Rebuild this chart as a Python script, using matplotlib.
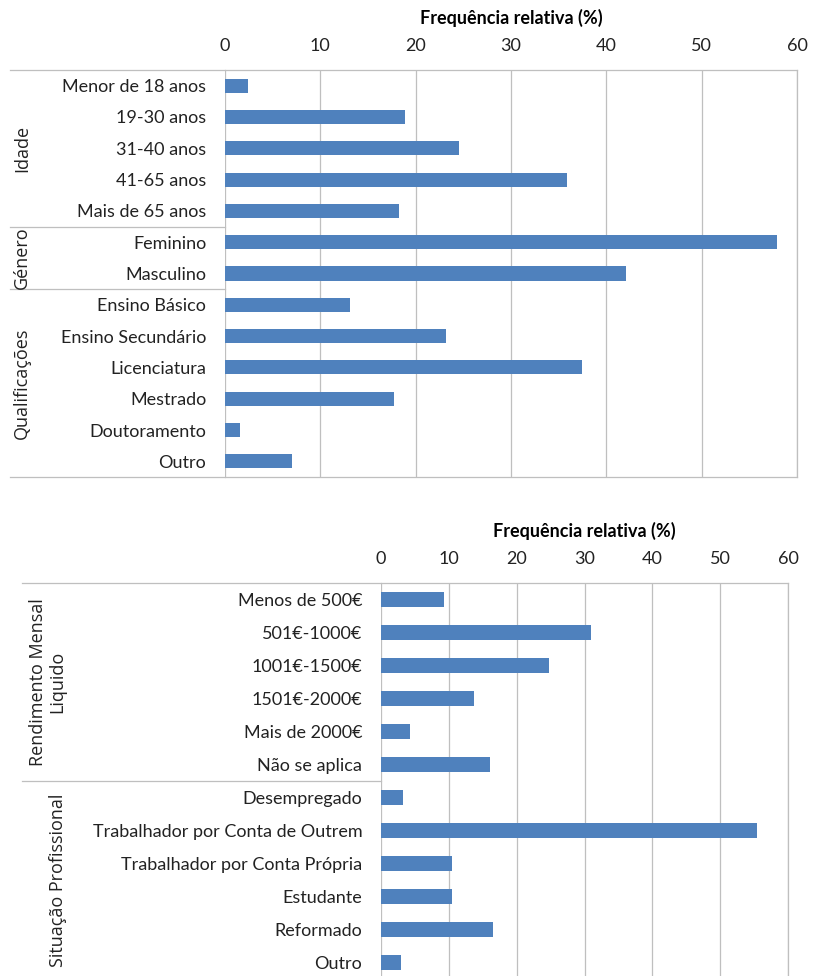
import numpy as np
import matplotlib
matplotlib.use("Agg")
import matplotlib.pyplot as plt
from matplotlib.transforms import blended_transform_factory

# top chart: profile of respondents
cats_top = ["Menor de 18 anos", "19-30 anos", "31-40 anos", "41-65 anos", "Mais de 65 anos",
            "Feminino", "Masculino",
            "Ensino Básico", "Ensino Secundário", "Licenciatura", "Mestrado", "Doutoramento", "Outro"]
vals_top = [2.4, 18.9, 24.5, 35.9, 18.2,
            57.9, 42.1,
            13.1, 23.2, 37.4, 17.7, 1.6, 7.0]
groups_top = [("Idade", 0, 4), ("Género", 5, 6), ("Qualificações", 7, 12)]

# bottom chart: income and job situation
cats_bot = ["Menos de 500€", "501€-1000€", "1001€-1500€", "1501€-2000€", "Mais de 2000€", "Não se aplica",
            "Desempregado", "Trabalhador por Conta de Outrem", "Trabalhador por Conta Própria",
            "Estudante", "Reformado", "Outro"]
vals_bot = [9.3, 31.0, 24.8, 13.7, 4.3, 16.1,
            3.3, 55.4, 10.5, 10.5, 16.5, 3.0]
groups_bot = [("Rendimento Mensal\nLiquido", 0, 5), ("Situação Profissional", 6, 11)]

xticks = [0, 10, 20, 30, 40, 50, 60]

W, H = 813, 976
BLUE = "#4F81BD"
GRID = "#BFBFBF"
LABEL_FONT = ["Lato", "DejaVu Sans"]
GROUP_FONT = ["Open Sans", "DejaVu Sans"]

fig = plt.figure(figsize=(W / 100, H / 100), dpi=100)


def px_axes(l, t, r, b):
    return fig.add_axes([l / W, 1 - b / H, (r - l) / W, (b - t) / H])


def draw_panel(ax, cats, vals, groups, line_left, group_xs):
    y = np.arange(len(cats))
    ax.barh(y, vals, height=0.45, color=BLUE, zorder=3)
    ax.set_ylim(len(cats) - 0.5, -0.5)
    ax.set_xlim(0, 60)
    ax.set_xticks(xticks)
    ax.xaxis.tick_top()
    ax.xaxis.set_label_position("top")
    ax.tick_params(axis="x", length=0, pad=11.5, labelsize=13, colors="#222222")
    ax.tick_params(axis="y", length=0, pad=13.5, labelsize=13, colors="#222222")
    ax.set_yticks(y)
    ax.set_yticklabels(cats)
    for lab in ax.get_xticklabels() + ax.get_yticklabels():
        lab.set_family(LABEL_FONT)
    ax.set_xlabel("Frequência relativa (%)", fontsize=13, fontweight="bold",
                  family=LABEL_FONT, labelpad=10)
    ax.grid(axis="x", color=GRID, linewidth=0.9, zorder=0)
    for s in ax.spines.values():
        s.set_color(GRID)
        s.set_linewidth(0.9)
    ax.spines["left"].set_visible(False)

    tr = blended_transform_factory(fig.transFigure, ax.transData)
    x0 = line_left / W
    x1 = ax.get_position().x0
    # top and bottom borders + group separators extending left
    seps = [-0.5, len(cats) - 0.5] + [g[1] - 0.5 for g in groups[1:]]
    for sy in seps:
        ax.plot([x0, x1], [sy, sy], transform=tr, color=GRID, lw=0.9, clip_on=False)
    for (name, a, b), gx in zip(groups, group_xs):
        ax.text(gx / W, (a + b) / 2, name, transform=tr, rotation=90,
                ha="center", va="center", fontsize=13, family=GROUP_FONT,
                color="#222222", linespacing=1.1)


ax1 = px_axes(225, 70, 797, 477)
draw_panel(ax1, cats_top, vals_top, groups_top, 10, [22, 22, 22])

ax2 = px_axes(381, 583, 788, 979)
draw_panel(ax2, cats_bot, vals_bot, groups_bot, 22, [48, 58])

fig.savefig("out.png", dpi=100)
